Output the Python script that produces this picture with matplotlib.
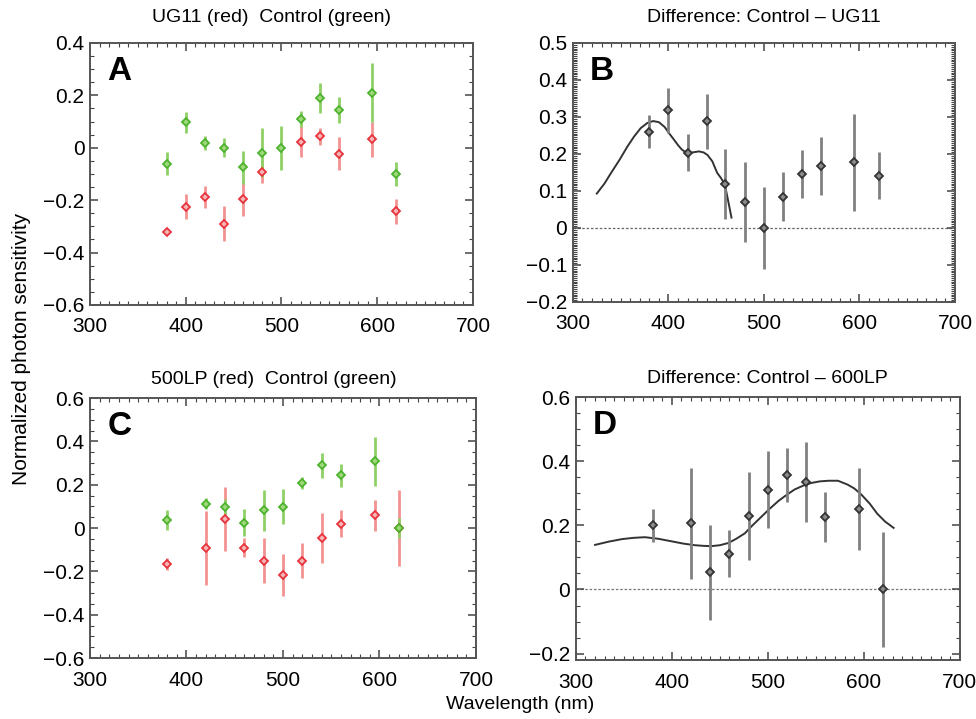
import numpy as np
import matplotlib
matplotlib.use("Agg")
import matplotlib.pyplot as plt
from matplotlib.ticker import MultipleLocator

plt.rcParams["font.family"] = ["Liberation Sans", "DejaVu Sans"]

# Panel A: UG11 (red) vs Control (green)
a_green_wl = [380, 400, 420, 440, 460, 480, 500, 520, 540, 560, 595, 620]
a_green_val = [-0.061, 0.097, 0.017, 0.0, -0.075, -0.019, 0.0, 0.11, 0.19, 0.145, 0.21, -0.10]
a_green_err = [0.044, 0.040, 0.027, 0.037, 0.063, 0.093, 0.083, 0.030, 0.058, 0.050, 0.113, 0.045]
a_red_wl = [380, 400, 420, 440, 460, 480, 520, 540, 560, 595, 620]
a_red_val = [-0.323, -0.225, -0.188, -0.29, -0.194, -0.091, 0.024, 0.044, -0.023, 0.032, -0.243]
a_red_err = [0.005, 0.048, 0.043, 0.067, 0.065, 0.045, 0.060, 0.032, 0.063, 0.067, 0.047]

# Panel B: difference Control - UG11
b_wl = [380, 400, 420, 440, 459, 480, 500, 520, 540, 560, 594, 620]
b_val = [0.26, 0.318, 0.204, 0.288, 0.118, 0.07, 0.0, 0.085, 0.147, 0.168, 0.177, 0.141]
b_err = [0.045, 0.060, 0.049, 0.074, 0.095, 0.109, 0.111, 0.065, 0.065, 0.079, 0.130, 0.064]
b_fit_wl = [325, 333, 340, 349, 357, 364, 371, 378, 384, 390, 396, 401, 406, 410, 414,
            418, 422, 427, 432, 437, 441, 446, 451, 455, 459, 462, 466]
b_fit_val = [0.093, 0.12, 0.149, 0.185, 0.22, 0.247, 0.27, 0.284, 0.289, 0.286, 0.273,
             0.255, 0.238, 0.224, 0.212, 0.205, 0.203, 0.205, 0.207, 0.204, 0.197, 0.18,
             0.149, 0.135, 0.118, 0.08, 0.028]

# Panel C: 500LP (red) vs Control (green)
c_green_wl = [380, 420, 440, 460, 480, 500, 520, 540, 560, 595, 620]
c_green_val = [0.038, 0.113, 0.099, 0.024, 0.081, 0.098, 0.208, 0.29, 0.243, 0.308, 0.0]
c_green_err = [0.046, 0.027, 0.033, 0.062, 0.094, 0.081, 0.027, 0.058, 0.053, 0.114, 0.045]
c_red_wl = [380, 420, 440, 460, 480, 500, 520, 540, 560, 595, 620]
c_red_val = [-0.166, -0.093, 0.043, -0.09, -0.15, -0.217, -0.15, -0.046, 0.02, 0.058, 0.0]
c_red_err = [0.028, 0.172, 0.147, 0.043, 0.105, 0.095, 0.081, 0.115, 0.061, 0.071, 0.176]

# Panel D: difference Control - 600LP
d_wl = [380, 420, 440, 460, 480, 500, 520, 540, 560, 595, 620]
d_val = [0.20, 0.206, 0.054, 0.112, 0.228, 0.311, 0.357, 0.335, 0.225, 0.251, 0.0]
d_err = [0.052, 0.172, 0.148, 0.073, 0.137, 0.120, 0.083, 0.126, 0.078, 0.129, 0.180]
d_fit_wl = [320, 334, 348, 360, 372, 386, 400, 412, 424, 433, 441, 450, 459, 467, 476,
            484, 493, 502, 511, 520, 528, 537, 545, 554, 563, 573, 583, 590, 597, 606,
            614, 622, 631]
d_fit_val = [0.139, 0.149, 0.157, 0.161, 0.163, 0.158, 0.15, 0.143, 0.138, 0.136, 0.135,
             0.138, 0.145, 0.158, 0.175, 0.2, 0.226, 0.252, 0.276, 0.296, 0.312, 0.324,
             0.332, 0.337, 0.339, 0.339, 0.327, 0.315, 0.297, 0.268, 0.236, 0.212, 0.192]

GREEN = "#4db32e"
GREEN_BAR = "#8ed066"
RED = "#e8323c"
RED_BAR = "#f29292"
DARK = "#333333"
GREY_BAR = "#808080"

fig = plt.figure(figsize=(9.76, 7.19), dpi=100)
axA = fig.add_axes([0.0922, 0.5758, 0.3924, 0.3644])
axB = fig.add_axes([0.587, 0.5800, 0.3915, 0.3602])
axC = fig.add_axes([0.0922, 0.0848, 0.3955, 0.3616])
axD = fig.add_axes([0.590, 0.0820, 0.3935, 0.3658])


def style(ax, ylim, ymajor, yminor):
    ax.set_xlim(300, 700)
    ax.set_ylim(*ylim)
    ax.xaxis.set_major_locator(MultipleLocator(100))
    ax.xaxis.set_minor_locator(MultipleLocator(10))
    ax.yaxis.set_major_locator(MultipleLocator(ymajor))
    ax.yaxis.set_minor_locator(MultipleLocator(yminor))
    ax.tick_params(which="both", direction="in", top=True, right=True,
                   labelsize=15, color="#444444")
    ax.tick_params(which="major", length=6, width=1.1)
    ax.tick_params(which="minor", length=3, width=0.8)
    ax.tick_params(axis="x", which="major", pad=9)
    ax.tick_params(axis="y", which="major", pad=4)
    for s in ax.spines.values():
        s.set_color("#555555")
        s.set_linewidth(1.4)
    ax.yaxis.set_major_formatter(plt.FuncFormatter(
        lambda v, p: "0" if abs(v) < 1e-9 else ("%g" % v).replace("-", "\u2212")))


def points(ax, x, y, e, color, barcolor, face):
    ax.errorbar(x, y, yerr=e, fmt="D", ms=4.5, mfc=face, mec=color, mew=1.3,
                ecolor=barcolor, elinewidth=2.0, capsize=0, zorder=3)


# A
points(axA, a_red_wl, a_red_val, a_red_err, RED, RED_BAR, "#f5b5b5")
points(axA, a_green_wl, a_green_val, a_green_err, GREEN, GREEN_BAR, "#9fd87a")
style(axA, (-0.6, 0.4), 0.2, 0.05)
axA.set_title("UG11 (red)  Control (green)", fontsize=14, pad=15, x=0.475)

# B
axB.axhline(0, color="#666666", lw=0.9, ls=(0, (2, 1.5)), zorder=1)
axB.plot(b_fit_wl, b_fit_val, color=DARK, lw=1.4, zorder=2)
points(axB, b_wl, b_val, b_err, DARK, GREY_BAR, "#8a8a8a")
style(axB, (-0.2, 0.5), 0.1, 0.005)
axB.set_title("Difference: Control \u2013 UG11", fontsize=14, pad=15)

# C
points(axC, c_red_wl, c_red_val, c_red_err, RED, RED_BAR, "#f5b5b5")
points(axC, c_green_wl, c_green_val, c_green_err, GREEN, GREEN_BAR, "#9fd87a")
style(axC, (-0.6, 0.6), 0.2, 0.05)
axC.set_title("500LP (red)  Control (green)", fontsize=14, pad=10, x=0.475)

# D
axD.axhline(0, color="#777777", lw=0.9, ls=(0, (2, 1.5)), zorder=1)
axD.plot(d_fit_wl, d_fit_val, color=DARK, lw=1.4, zorder=2)
points(axD, d_wl, d_val, d_err, DARK, GREY_BAR, "#8a8a8a")
style(axD, (-0.22, 0.6), 0.2, 0.05)
axD.set_title("Difference: Control \u2013 600LP", fontsize=14, pad=10)

for ax, letter in zip([axA, axB, axC, axD], "ABCD"):
    ax.text(0.045, 0.95, letter, transform=ax.transAxes, fontsize=24,
            fontweight="bold", va="top", ha="left")

fig.text(0.022, 0.515, "Normalized photon sensitivity", rotation=90,
         fontsize=15, ha="center", va="center")
fig.text(0.533, 0.02, "Wavelength (nm)", fontsize=14, ha="center", va="center")

fig.savefig("out.png", dpi=100)
